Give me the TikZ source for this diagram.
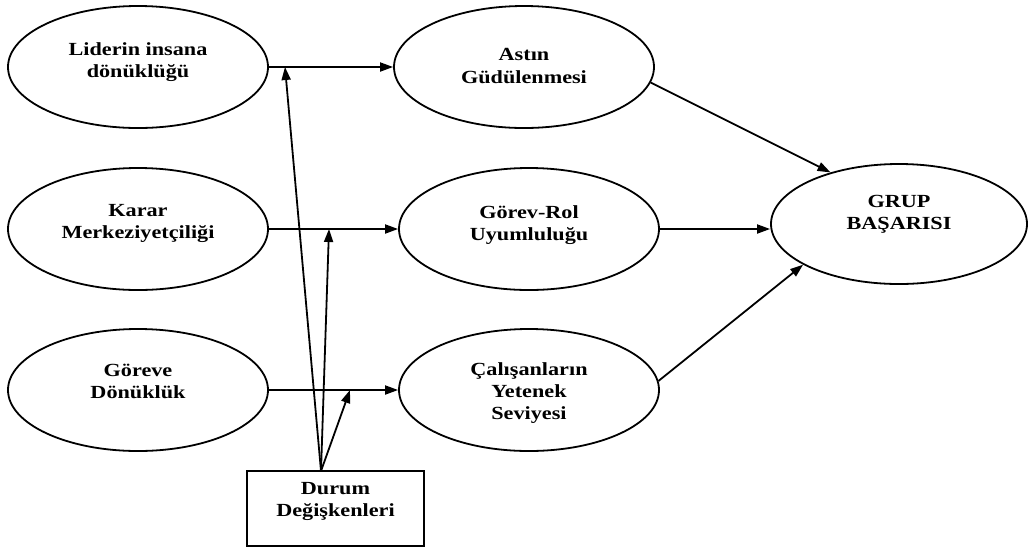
\documentclass[tikz,border=0pt]{standalone}
\usepackage{fontspec}
\setmainfont{Liberation Serif}[FakeStretch=1.2]
\usetikzlibrary{shapes.geometric,arrows.meta,calc}
\tikzset{
  oval/.style={ellipse, draw, line width=1.8pt, inner sep=0pt, minimum width=260pt, minimum height=122pt},
  lbl/.style={align=center, font=\fontsize{18.5}{22}\selectfont\bfseries, inner sep=0pt},
  conn/.style={line width=1.8pt, -{Triangle[length=13pt,width=9pt]}},
  boxstyle/.style={draw, line width=1.8pt, minimum width=177pt, minimum height=75pt, inner sep=0pt}
}
\begin{document}
\begin{tikzpicture}[x=1pt,y=-1pt]
\useasboundingbox (0,0) rectangle (1028,550);
% left column
\node[oval] (L1) at (138,67) {};
\node[lbl] (L1t) at (138,62) {Liderin insana\\dönüklüğü};
\node[oval] (L2) at (138,229) {};
\node[lbl] (L2t) at (138,223) {Karar\\Merkeziyetçiliği};
\node[oval] (L3) at (138,390) {};
\node[lbl] (L3t) at (138,381) {Göreve\\Dönüklük};
% middle column
\node[oval] (A) at (524,67) {};
\node[lbl] (At) at (524,66) {Astın\\Güdülenmesi};
\node[oval] (B) at (529,229) {};
\node[lbl] (Bt) at (529,225) {Görev-Rol\\Uyumluluğu};
\node[oval] (C) at (529,390) {};
\node[lbl] (Ct) at (529,393) {Çalışanların\\Yetenek\\Seviyesi};
% right
\node[oval, minimum width=256pt, minimum height=120pt] (G) at (899,224) {};
\node[lbl] (Gt) at (899,214) {GRUP\\BAŞARISI};
% box
\node[boxstyle] (D) at (335.5,508.5) {};
\node[lbl] (Dt) at (335.5,501) {Durum\\Değişkenleri};
% horizontal arrows
\draw[conn] (L1.east) -- (A.west);
\draw[conn] (L2.east) -- (B.west);
\draw[conn] (L3.east) -- (C.west);
% to GRUP
\draw[conn] (A.-7) -- (G.143);
\draw[conn] (B.east) -- (B.east -| G.west);
\draw[conn] (C.4) -- (G.203);
% moderator arrows
\coordinate (Ds) at (321,471);
\coordinate (m1) at (285,67);
\coordinate (m2) at (329,229);
\coordinate (m3) at (350,390);
\draw[conn] (Ds) -- (m1);
\draw[conn] (Ds) -- (m2);
\draw[conn] (Ds) -- (m3);
\end{tikzpicture}
\end{document}
